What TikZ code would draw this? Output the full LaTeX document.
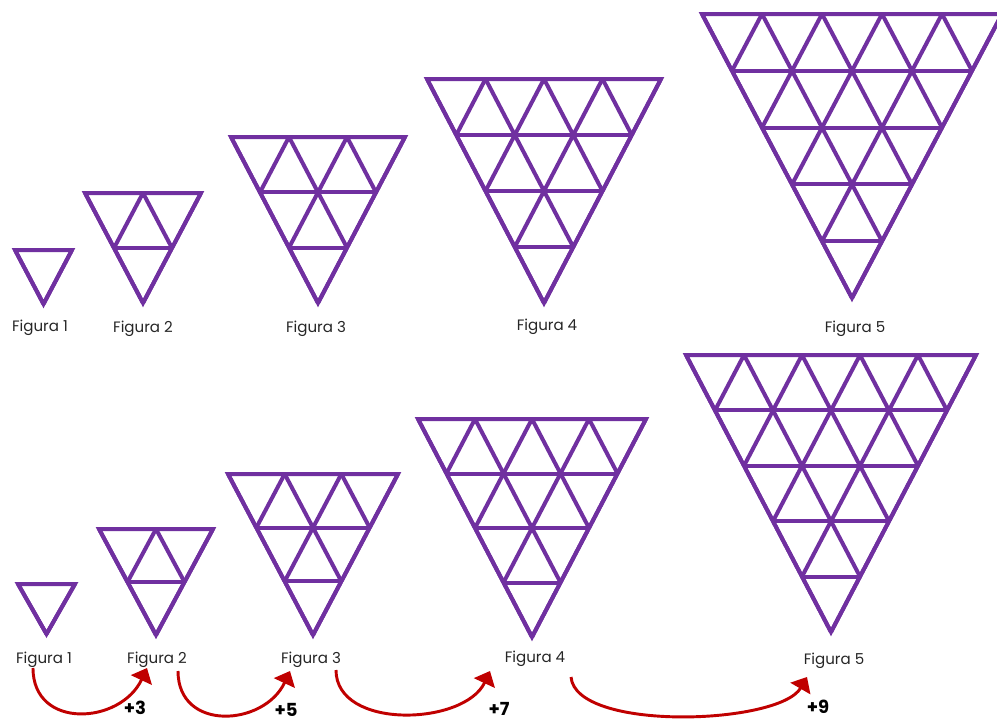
\documentclass[tikz,border=0pt]{standalone}
\usepackage{fontspec}
\setmainfont{Poppins}
\usetikzlibrary{arrows.meta}
\definecolor{figpurple}{HTML}{7030A0}
\definecolor{jumpred}{HTML}{C00000}
\definecolor{labelgray}{HTML}{262626}
\tikzset{
  grid line/.style={draw=figpurple, line width=3pt, line join=miter},
  fig label/.style={text=labelgray, font=\fontsize{11.3}{13}\selectfont, inner sep=0pt},
  jump/.style={draw=jumpred, line width=2.2pt, -{Triangle[width=17pt,length=10pt]}},
  jump label/.style={font=\bfseries\fontsize{13.5}{16}\selectfont, inner sep=0pt}
}
% inverted triangle made of small triangles: x0, y0, width, height, rows
\newcommand{\trifig}[5]{%
  \pgfmathsetmacro{\cellw}{0.75*#3/#5}
  \pgfmathsetmacro{\cellh}{-0.75*#4/#5}
  \begin{scope}[shift={(#1,#2)}, x=\cellw pt, y=\cellh pt]
    \draw[grid line] (0,0) -- (#5,0) -- ({#5/2},#5) -- cycle;
    \foreach \k in {1,...,#5}{
      \draw[grid line] ({(\k-1)/2},{\k-1}) -- ({#5-(\k-1)/2},{\k-1});
      \draw[grid line] ({\k-1},0) -- ({(\k-1)+(#5-\k+1)/2},{#5-\k+1});
      \draw[grid line] (\k,0) -- ({\k/2},\k);
    }
  \end{scope}}
\begin{document}
\begin{tikzpicture}[x=0.75pt, y=-0.75pt]
\useasboundingbox (0,0) rectangle (997,721);
% top row
\trifig{15}{250}{57}{54}{1}
\trifig{85}{193}{116}{110}{2}
\trifig{231}{137}{174}{166}{3}
\trifig{427}{79}{234}{224}{4}
\trifig{702}{14}{300}{284}{5}
\node[fig label] (top1) at (40,328) {Figura 1};
\node[fig label] (top2) at (143,329) {Figura 2};
\node[fig label] (top3) at (316,329) {Figura 3};
\node[fig label] (top4) at (547,327) {Figura 4};
\node[fig label] (top5) at (855,329) {Figura 5};
% bottom row
\trifig{18}{584}{57}{50}{1}
\trifig{99}{529}{114}{106}{2}
\trifig{228}{474}{170}{161}{3}
\trifig{418}{419}{228}{218}{4}
\trifig{686}{355}{290}{277}{5}
\node[fig label] (bot1) at (44,660) {Figura 1};
\node[fig label] (bot2) at (157,660) {Figura 2};
\node[fig label] (bot3) at (311,660) {Figura 3};
\node[fig label] (bot4) at (535,659) {Figura 4};
\node[fig label] (bot5) at (834,661) {Figura 5};
% jumps between figures
\coordinate (from1) at (33,668);
\coordinate (to1) at (147,668);
\coordinate (from2) at (178,671);
\coordinate (to2) at (290,671);
\coordinate (from3) at (336,670);
\coordinate (to3) at (490,671);
\coordinate (from4) at (571,677);
\coordinate (to4) at (807,677);
\draw[jump] (from1) to[out=-90,in=-115,looseness=1.4] (to1);
\draw[jump] (from2) to[out=-90,in=-115,looseness=1.4] (to2);
\draw[jump] (from3) to[out=-90,in=-115,looseness=1] (to3);
\draw[jump] (from4) to[out=-85,in=-120,looseness=0.6] (to4);
\node[jump label] (plus3) at (135,708) {+3};
\node[jump label] (plus5) at (286,710) {+5};
\node[jump label] (plus7) at (499,709) {+7};
\node[jump label] (plus9) at (818,707) {+9};
\end{tikzpicture}
\end{document}
